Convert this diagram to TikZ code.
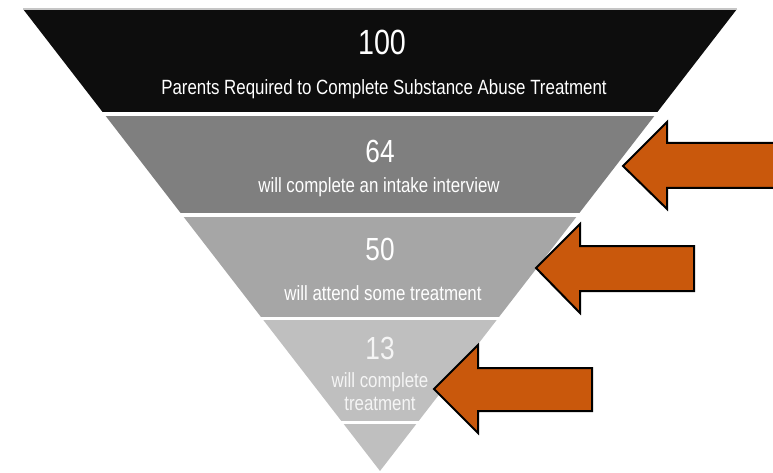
\documentclass[tikz,border=0pt]{standalone}
\usepackage{fontspec}
\setmainfont{Liberation Sans}[FakeStretch=0.82]
\usetikzlibrary{positioning}
\definecolor{bandA}{HTML}{0D0D0D}
\definecolor{bandB}{HTML}{7F7F7F}
\definecolor{bandC}{HTML}{A6A6A6}
\definecolor{bandD}{HTML}{BFBFBF}
\definecolor{pointer}{RGB}{201,88,12}
\tikzset{
  count/.style={
    inner sep=0pt, anchor=base, text=white,
    font=\fontsize{32}{36}\selectfont
  },
  caption/.style={
    inner sep=0pt, anchor=base, text=white,
    font=\fontsize{20.6}{23}\selectfont
  },
  callout/.style={
    fill=pointer, draw=black, line width=2pt, line join=miter
  }
}

\begin{document}
\begin{tikzpicture}[x=1pt, y=-1pt]
      \useasboundingbox (0,0) rectangle (773,473);

      % Funnel bands (clipped to the triangle)
      \begin{scope}
        \clip (23,9) -- (737,9) -- (380,471) -- cycle;
        \fill[bandA] (0,9) rectangle (773,112.5);
        \fill[bandB] (0,116) rectangle (773,213);
        \fill[bandC] (0,216.5) rectangle (773,316.5);
        \fill[bandD] (0,319.5) rectangle (773,421);
        \fill[bandD] (0,424) rectangle (773,473);
      \end{scope}
      \draw[gray!45, line width=1.2pt] (23,9) -- (737,9);

      % Band texts
      \node[count, font=\fontsize{35}{40}\selectfont] (num100) at (382,55) {100};
      \node[caption] (lbl100) at (384,95) {Parents Required to Complete Substance Abuse Treatment};

      \node[count] (num64) at (380,163) {64};
      \node[caption] (lbl64) at (379,192.7) {will complete an intake interview};

      \node[count] (num50) at (380,260) {50};
      \node[caption] (lbl50) at (383,300) {will attend some treatment};

      \node[count, text=gray!8] (num13) at (380,359) {13};
      \node[caption, text=gray!8, anchor=center, align=center] (lbl13) at (380,391.5) {will complete\\treatment};

      % Arrows pointing at the bands
      \draw[callout] (623,166) -- (667,122) -- (667,143) -- (776,143)
        -- (776,188) -- (667,188) -- (667,209) -- cycle;
      \draw[callout] (536,268) -- (580,224) -- (580,246) -- (694,246)
        -- (694,291) -- (580,291) -- (580,313) -- cycle;
      \draw[callout] (434,389) -- (478,345) -- (478,368) -- (592,368)
        -- (592,411) -- (478,411) -- (478,433) -- cycle;
\end{tikzpicture}
\end{document}
